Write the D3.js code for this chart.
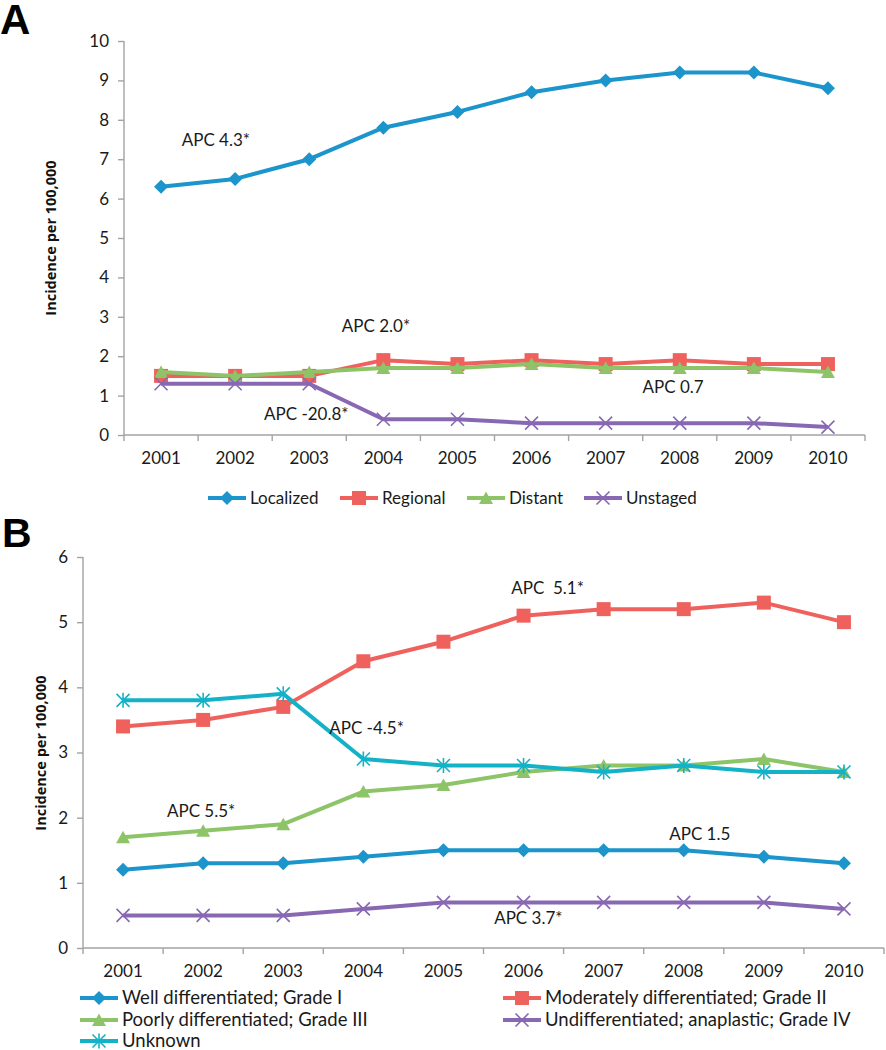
<!DOCTYPE html>
<html><head><meta charset="utf-8">
<script src="https://cdn.jsdelivr.net/npm/d3@7"></script>
<style>
html,body{margin:0;padding:0;background:#fff;}
</style></head>
<body><svg id="chart" width="886" height="1050"></svg>
<script>
// ---------- DATA ----------
const years = ["2001","2002","2003","2004","2005","2006","2007","2008","2009","2010"];

// Panel A (stage)
const localized = [6.3, 6.5, 7.0, 7.8, 8.2, 8.7, 9.0, 9.2, 9.2, 8.8];
const regional  = [1.5, 1.5, 1.5, 1.9, 1.8, 1.9, 1.8, 1.9, 1.8, 1.8];
const distant   = [1.6, 1.5, 1.6, 1.7, 1.7, 1.8, 1.7, 1.7, 1.7, 1.6];
const unstaged  = [1.3, 1.3, 1.3, 0.4, 0.4, 0.3, 0.3, 0.3, 0.3, 0.2];
const ticksA = [0,1,2,3,4,5,6,7,8,9,10];

// Panel B (grade)
const gradeI   = [1.2, 1.3, 1.3, 1.4, 1.5, 1.5, 1.5, 1.5, 1.4, 1.3];
const gradeII  = [3.4, 3.5, 3.7, 4.4, 4.7, 5.1, 5.2, 5.2, 5.3, 5.0];
const gradeIII = [1.7, 1.8, 1.9, 2.4, 2.5, 2.7, 2.8, 2.8, 2.9, 2.7];
const gradeIV  = [0.5, 0.5, 0.5, 0.6, 0.7, 0.7, 0.7, 0.7, 0.7, 0.6];
const unknown  = [3.8, 3.8, 3.9, 2.9, 2.8, 2.8, 2.7, 2.8, 2.7, 2.7];
const ticksB = [0,1,2,3,4,5,6];

const seriesA = [
  {name:"Localized", values:localized, color:"#1B95CB", marker:"diamond"},
  {name:"Regional",  values:regional,  color:"#EF615C", marker:"square"},
  {name:"Distant",   values:distant,   color:"#8DC468", marker:"triangle"},
  {name:"Unstaged",  values:unstaged,  color:"#8868B2", marker:"x"}
];
const seriesB = [
  {name:"Well differentiated; Grade I", values:gradeI, color:"#1B95CB", marker:"diamond"},
  {name:"Moderately differentiated; Grade II", values:gradeII, color:"#EF615C", marker:"square"},
  {name:"Poorly differentiated; Grade III", values:gradeIII, color:"#8DC468", marker:"triangle"},
  {name:"Undifferentiated; anaplastic; Grade IV", values:gradeIV, color:"#8868B2", marker:"x"},
  {name:"Unknown", values:unknown, color:"#14B2C7", marker:"asterisk"}
];
// annotations: [text, category index (fractional), value]
const annotA = [["APC 4.3*",0.74,7.49],["APC 2.0*",2.9,2.77],["APC -20.8*",1.96,0.53],["APC 0.7",6.91,1.22]];
const annotB = [["APC  5.1*",5.3,5.52],["APC -4.5*",3.04,3.38],["APC 5.5*",0.975,2.10],["APC 1.5",7.2,1.75],["APC 3.7*",5.06,0.46]];

// ---------- DRAW ----------
const svg = d3.select("#chart");
const AXIS = "#A3A3A3";
const FONT = "Lato, 'Open Sans', sans-serif";
const FS = 17;

function drawMarker(g, type, color, cx, cy){
  const s = 6.5;
  if(type==="diamond"){
    g.append("path").attr("d",`M${cx},${cy-s-0.5}L${cx+s+0.5},${cy}L${cx},${cy+s+0.5}L${cx-s-0.5},${cy}Z`).attr("fill",color);
  } else if(type==="square"){
    g.append("rect").attr("x",cx-7).attr("y",cy-7).attr("width",14).attr("height",14).attr("fill",color);
  } else if(type==="triangle"){
    g.append("path").attr("d",`M${cx},${cy-6.5}L${cx+7},${cy+6}L${cx-7},${cy+6}Z`).attr("fill",color);
  } else if(type==="x"){
    g.append("path").attr("d",`M${cx-s},${cy-s}L${cx+s},${cy+s}M${cx-s},${cy+s}L${cx+s},${cy-s}`).attr("stroke",color).attr("stroke-width",1.6).attr("fill","none");
  } else if(type==="asterisk"){
    g.append("path").attr("d",`M${cx-s},${cy-s}L${cx+s},${cy+s}M${cx-s},${cy+s}L${cx+s},${cy-s}M${cx},${cy-7.5}L${cx},${cy+7.5}`).attr("stroke",color).attr("stroke-width",1.6).attr("fill","none");
  }
}

function panel(cfg){
  const g = svg.append("g");
  const x = d3.scaleBand().domain(years).range([cfg.x0, cfg.x1]);
  const y = d3.scaleLinear().domain([0, cfg.ymax]).range([cfg.y0, cfg.y1]);
  const xc = d => x(d) + x.bandwidth()/2;
  const xi = i => cfg.x0 + (i+0.5)*x.bandwidth();

  // y axis
  const ya = g.append("g").attr("transform",`translate(${cfg.x0},0)`)
    .call(d3.axisLeft(y).tickValues(cfg.ticks).tickSize(6).tickPadding(9).tickFormat(d3.format("d")));
  ya.select(".domain").attr("stroke",AXIS).attr("stroke-width",1.4).attr("d",`M0,${cfg.y0}V${cfg.y1}`);
  ya.selectAll(".tick line").attr("stroke",AXIS).attr("stroke-width",1.4);
  ya.selectAll(".tick text").style("font-family",FONT).style("font-size",FS+"px").attr("fill","#1a1a1a");

  // x axis
  const xa = g.append("g").attr("transform",`translate(0,${cfg.y0})`)
    .call(d3.axisBottom(x).tickSize(0).tickPadding(17));
  xa.select(".domain").attr("stroke",AXIS).attr("stroke-width",1.4).attr("d",`M${cfg.x0},0H${cfg.x1}`);
  xa.selectAll(".tick text").style("font-family",FONT).style("font-size",FS+"px").attr("fill","#1a1a1a");
  // boundary ticks
  const bounds = years.map(d=>x(d)).concat([cfg.x1]);
  g.selectAll(".btick").data(bounds).enter().append("line")
    .attr("x1",d=>d).attr("x2",d=>d).attr("y1",cfg.y0).attr("y2",cfg.y0+6)
    .attr("stroke",AXIS).attr("stroke-width",1.4);

  // y title
  g.append("text").attr("transform",`translate(${cfg.titleX},${cfg.titleY}) rotate(-90)`)
    .attr("text-anchor","middle").style("font-family","'Open Sans', sans-serif").style("font-weight","bold")
    .style("font-size","14.5px").attr("fill","#111").text("Incidence per 100,000");

  // panel letter
  g.append("text").attr("x",cfg.letterX).attr("y",cfg.letterY).style("font-family","'Liberation Sans', Arial, sans-serif")
    .style("font-weight","bold").style("font-size",cfg.letterSize+"px").attr("fill","#000").text(cfg.letter);

  // series
  const line = d3.line().x((d,i)=>xc(years[i])).y(d=>y(d));
  cfg.series.forEach(s=>{
    const sg = g.append("g");
    sg.append("path").attr("d",line(s.values)).attr("fill","none").attr("stroke",s.color)
      .attr("stroke-width",4).attr("stroke-linejoin","round");
    s.values.forEach((v,i)=>drawMarker(sg, s.marker, s.color, xc(years[i]), y(v)));
  });

  // annotations
  cfg.annot.forEach(a=>{
    g.append("text").attr("x",xi(a[1])).attr("y",y(a[2])).attr("dy","0.36em")
      .attr("text-anchor","middle").style("font-family",FONT).style("font-size",FS+"px")
      .attr("fill","#1a1a1a").style("white-space","pre").text(a[0]);
  });

  // legend
  cfg.legend.forEach((p,i)=>{
    const s = cfg.series[i];
    const lg = g.append("g");
    lg.append("line").attr("x1",p[0]).attr("x2",p[0]+38).attr("y1",p[1]).attr("y2",p[1])
      .attr("stroke",s.color).attr("stroke-width",4);
    drawMarker(lg, s.marker, s.color, p[0]+19, p[1]);
    lg.append("text").attr("x",p[0]+42).attr("y",p[1]).attr("dy","0.35em")
      .style("font-family",FONT).style("font-size",cfg.legendFS+"px").attr("fill","#1a1a1a").text(s.name);
  });
}

panel({letter:"A", letterX:0, letterY:34, letterSize:42,
  x0:124, x1:865, y0:435, y1:41, ymax:10, ticks:ticksA, titleX:56, titleY:238,
  series:seriesA, annot:annotA, legendFS:17,
  legend:[[208,498],[340,498],[467,498],[584,498]]});

panel({letter:"B", letterX:2, letterY:547, letterSize:41,
  x0:83, x1:884, y0:948, y1:557, ymax:6, ticks:ticksB, titleX:46, titleY:753,
  series:seriesB, annot:annotB, legendFS:18.5,
  legend:[[80,998],[503,998],[80,1020],[503,1020],[80,1041]]});
</script></body></html>
